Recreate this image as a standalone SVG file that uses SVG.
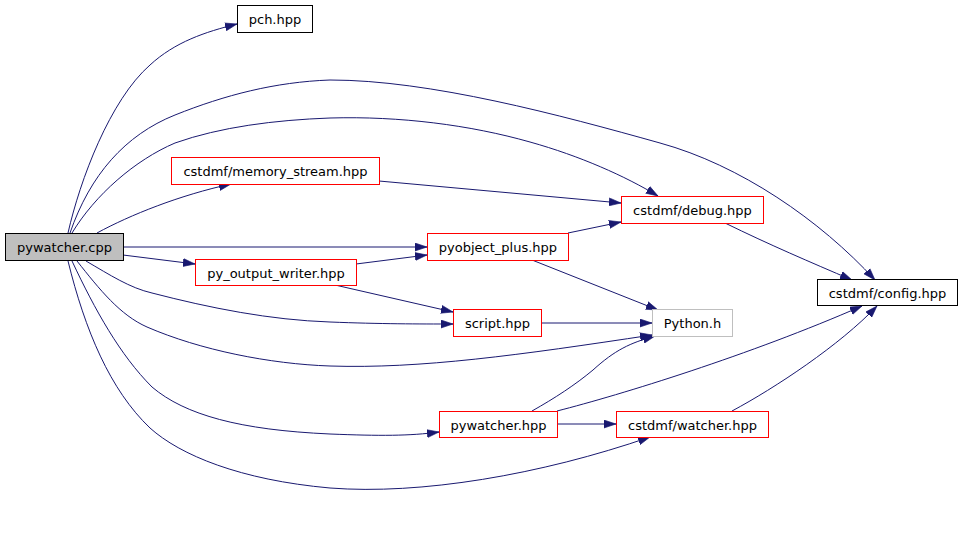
<svg xmlns="http://www.w3.org/2000/svg" width="962" height="540" viewBox="0 0 962 540">
<style>
.n rect{fill:#fff;stroke:#000;stroke-width:1}
.n.red rect{stroke:#f00}
.n.gray rect{stroke:#bfbfbf}
.n.cur rect{fill:#bfbfbf}
.n text{font-family:"DejaVu Sans",sans-serif;font-size:13px;text-anchor:middle;fill:#000}
.e path{fill:none;stroke:#191970;stroke-width:1;marker-end:url(#ah)}
</style>
<defs>
<marker id="ah" markerUnits="userSpaceOnUse" markerWidth="13" markerHeight="9" refX="12" refY="4.5" orient="auto" viewBox="0 0 13 9">
<path d="M0,0.5 L12,4.5 L0,8.5 z" fill="#191970" stroke="#191970" stroke-width="0.6"/>
</marker>
</defs>
<rect width="962" height="540" fill="#fff"/>
<g id="edges" class="e">
<path d="M68,233 C80,180 110,100 150,65 C175,42 205,32 237,24"/>
<path d="M70,233 C90,175 125,135 175,115 C225,95 275,82 330,80 C430,80 560,115 660,143 C740,165 820,220 875,280"/>
<path d="M72,233 C95,195 135,160 175,143 C220,127 275,120 330,118 C400,116 470,125 530,142 C580,156 625,176 658,196"/>
<path d="M97,233 C130,215 180,195 231,184"/>
<path d="M123,247 L427,247"/>
<path d="M123,255 L195,264"/>
<path d="M86,261 C110,275 130,288 152,293 C210,308 270,320 330,322 C380,324 420,324 453,324"/>
<path d="M77,261 C100,290 120,315 147,327 C200,350 270,364 330,366 C420,369 520,355 652,335"/>
<path d="M72,261 C95,310 120,355 152,387 C185,415 240,430 330,434 C380,436 410,436 439,432"/>
<path d="M68,261 C85,330 110,390 150,428 C180,455 240,480 330,488 C420,495 540,475 650,437"/>
<path d="M379,181 L621,203"/>
<path d="M568,233 L621,222"/>
<path d="M356,264 L427,255"/>
<path d="M335,285 L453,312"/>
<path d="M532,260 L658,310"/>
<path d="M541,323 L652,323"/>
<path d="M725,223 C770,245 810,262 852,280"/>
<path d="M532,411 C555,398 575,385 593,370 C615,350 630,343 655,336"/>
<path d="M557,411 C620,395 750,355 862,306"/>
<path d="M557,424 L616,424"/>
<path d="M732,411 C775,388 840,345 877,306"/>
</g>
<g id="pywatcher_cpp" class="n cur"><rect x="5.5" y="233.5" width="118" height="27"/><text x="64.5" y="252">pywatcher.cpp</text></g>
<g id="pch_hpp" class="n"><rect x="237.5" y="5.5" width="75" height="27"/><text x="275" y="24">pch.hpp</text></g>
<g id="memory_stream_hpp" class="n red"><rect x="171.5" y="157.5" width="208" height="27"/><text x="275.5" y="176">cstdmf/memory_stream.hpp</text></g>
<g id="debug_hpp" class="n red"><rect x="621.5" y="196.5" width="142" height="27"/><text x="692.5" y="215">cstdmf/debug.hpp</text></g>
<g id="pyobject_plus_hpp" class="n red"><rect x="427.5" y="233.5" width="141" height="27"/><text x="498" y="252">pyobject_plus.hpp</text></g>
<g id="py_output_writer_hpp" class="n red"><rect x="195.5" y="259.5" width="161" height="26"/><text x="276" y="278">py_output_writer.hpp</text></g>
<g id="config_hpp" class="n"><rect x="817.5" y="279.5" width="140" height="26"/><text x="887.5" y="298">cstdmf/config.hpp</text></g>
<g id="Python_h" class="n gray"><rect x="652.5" y="309.5" width="80" height="27"/><text x="692.5" y="328">Python.h</text></g>
<g id="script_hpp" class="n red"><rect x="453.5" y="309.5" width="88" height="27"/><text x="497.5" y="328">script.hpp</text></g>
<g id="pywatcher_hpp" class="n red"><rect x="439.5" y="411.5" width="118" height="26"/><text x="498.5" y="430">pywatcher.hpp</text></g>
<g id="watcher_hpp" class="n red"><rect x="616.5" y="411.5" width="152" height="26"/><text x="692.5" y="430">cstdmf/watcher.hpp</text></g>
</svg>
